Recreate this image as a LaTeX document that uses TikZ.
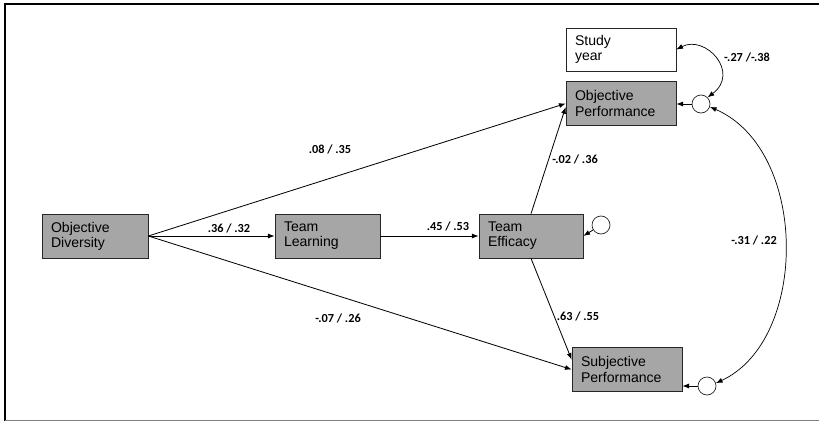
\documentclass[tikz,border=0pt]{standalone}
\usepackage{fontspec}
\setmainfont{Liberation Sans}
\newfontfamily\coeffont{Carlito}
\usepackage{tikz}
\usetikzlibrary{calc}
\usetikzlibrary{arrows.meta}

\begin{document}
\begin{tikzpicture}[
    every node/.style={font=\fontsize{12}{13}\selectfont},
    box/.style={draw=black!85, fill=black!35, line width=0.6pt, inner xsep=0.27cm,
        minimum height=1.32cm, align=left},
    err/.style={circle, draw=black!85, fill=white, line width=0.6pt, minimum size=0.54cm, inner sep=0pt},
    path/.style={-{Latex[length=2mm,width=1.5mm]}, line width=0.7pt},
    dpath/.style={{Latex[length=2mm,width=1.5mm]}-{Latex[length=2mm,width=1.5mm]}, line width=0.6pt},
    coef/.style={font=\coeffont\bfseries\fontsize{10.5}{12}\selectfont, inner sep=1pt}]
    \useasboundingbox (0,0) rectangle (24.57,12.66);

    % ---------------- frame ----------------
    \draw[line width=1.2pt] (24.57,12.54) -- (0.15,12.54) -- (0.15,0.04);
    \draw[gray, line width=1pt] (0.15,0.04) -- (24.57,0.04);

    % ---------------- variables ----------------
    \node[box, text width=2.64cm] (od) at (2.85,5.58) {Objective\\Diversity};
    \node[box, text width=2.61cm] (tl) at (9.825,5.58) {Team\\Learning};
    \node[box, text width=2.58cm] (te) at (15.93,5.58) {Team\\Efficacy};
    \node[box, fill=white, text width=2.76cm, minimum height=1.29cm] (sy) at (18.63,11.175) {Study\\year};
    \node[box, text width=2.76cm] (op) at (18.63,9.555) {Objective\\Performance};
    \node[box, text width=2.76cm] (sp) at (18.81,1.575) {Subjective\\Performance};

    % error terms
    \node[err] (opc) at (21.03,9.54) {};
    \node[err] (spc) at (21.21,1.08) {};
    \node[err] (tec) at (18.03,5.91) {};

    % ---------------- paths ----------------
    \draw[path] (od.east) -- (tl.west);
    \node[coef] (l1) at (6.87,5.82) {.36 / .32};
    \draw[path] (tl.east) -- (te.west);
    \node[coef] (l2) at (13.44,5.88) {.45 / .53};
    \draw[path] (od.east) -- (op.west);
    \node[coef] (l3) at (9.9,8.19) {.08 / .35};
    \draw[path] (od.east) -- (sp.west);
    \node[coef] (l4) at (10.14,3.12) {-.07 / .26};
    \draw[path] (te.north) -- ($(op.south west)!0.42!(op.north west)$);
    \node[coef] (l5) at (17.25,7.89) {-.02 / .36};
    \draw[path] (te.south) -- ($(sp.south west)!0.72!(sp.north west)$);
    \node[coef] (l6) at (17.34,3.18) {.63 / .55};

    % residual arrows
    \draw[path] (opc.west) -- (opc.west -| op.east);
    \draw[path] (spc.west) -- (spc.west -| sp.east);
    \draw[path] (tec) -- (te.east);

    % covariances
    \draw[dpath] (sy.east) .. controls +(0.87,0.45) and +(0.99,0.75) .. (opc.45);
    \node[coef] (l7) at (22.41,10.95) {-.27 /-.38};
    \draw[dpath] (opc.-18) .. controls +(2.97,-1.29) and +(2.79,1.29) .. (spc.18);
    \node[coef] (l8) at (22.62,5.46) {-.31 / .22};
\end{tikzpicture}
\end{document}
